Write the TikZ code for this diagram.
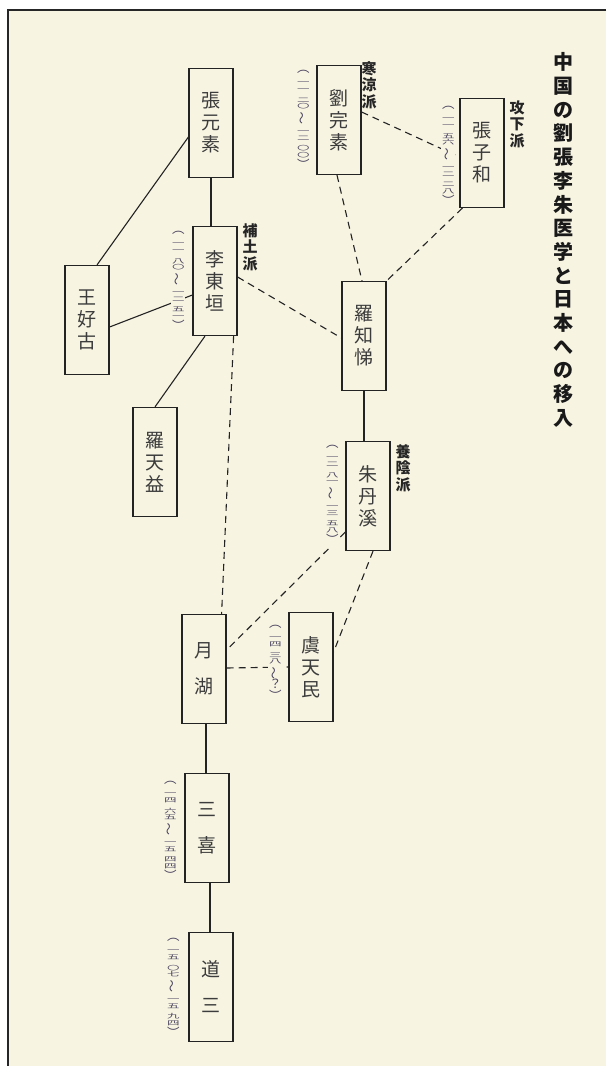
\documentclass[tikz,border=0pt]{standalone}
\usepackage{fontspec}
\setmainfont{Noto Sans CJK JP}
\usepackage{graphicx}
\definecolor{cream}{RGB}{247,244,226}
\definecolor{datecol}{RGB}{75,68,95}
\definecolor{inkline}{RGB}{35,35,35}
\definecolor{inktext}{RGB}{60,60,60}
\newcommand\sd[1]{\scalebox{1}[0.5]{#1}}
\newcommand\dpr[2]{\sd{#1}\\\sd{#2}}
\newcommand\dyr[4]{\dpr{#1}{#2}\\[3.5pt]\dpr{#3}{#4}}
\newcommand\opn{︵}
\newcommand\cls{︶}
\newcommand\wv{\rotatebox[origin=c]{90}{～}}
\tikzset{
  namebox/.style={draw=inkline, line width=1.2pt, minimum width=44pt, minimum height=109pt,
    inner sep=0pt, text=inktext, align=center, font={\fontsize{19}{22}\selectfont}},
  namebox2/.style={namebox, font={\fontsize{19}{36}\selectfont}},
  school/.style={text=black!85, align=center, inner sep=0pt, font={\bfseries\fontsize{15}{16.5}\selectfont}},
  datelbl/.style={text=datecol, fill=cream, inner sep=1pt, text width=12pt, align=center,
    font={\fontsize{12.5}{6.8}\selectfont\lineskiplimit-100pt}},
  solidlink/.style={draw=inkline, line width=1.1pt},
  dashlink/.style={draw=inkline, line width=1.1pt, dash pattern=on 7pt off 5pt},
  titletext/.style={text=black!90, align=center, inner sep=0pt, font={\bfseries\fontsize{20}{23.7}\selectfont}}
}
\begin{document}
\begin{tikzpicture}[x=1pt,y=-1pt]
\useasboundingbox (0,0) rectangle (606,1066);
\fill[white] (0,0) rectangle (606,1066);
\fill[cream] (8,10) rectangle (606,1066);
\draw[line width=2pt, black!85] (606,10) -- (8,10) -- (8,1066);

% name boxes
\node[namebox] (zih) at (482,153) {張\\子\\和};
\node[namebox] (lwa) at (339,120) {劉\\完\\素};
\node[namebox] (zgs) at (211,123) {張\\元\\素};
\node[namebox] (lid) at (215,281) {李\\東\\垣};
\node[namebox] (wkk) at (87,320) {王\\好\\古};
\node[namebox] (rte) at (155,462) {羅\\天\\益};
\node[namebox] (rct) at (364,336) {羅\\知\\悌};
\node[namebox] (ztk) at (368,496) {朱\\丹\\溪};
\node[namebox2] (gk) at (204,669) {月\\湖};
\node[namebox] (gtm) at (311,667) {虞\\天\\民};
\node[namebox2] (sk) at (207,828) {三\\喜};
\node[namebox2] (ds) at (211,987) {道\\三};

% solid connectors
\draw[solidlink] (zgs.south) -- (zgs.south |- lid.north);
\draw[solidlink] ([yshift=-14pt]zgs.west) -- ([xshift=10pt]wkk.north);
\draw[solidlink] ([yshift=-7pt]wkk.east) -- ([yshift=-14pt]lid.west);
\draw[solidlink] ([xshift=-10pt]lid.south) -- (rte.north);
\draw[solidlink] (rct.south) -- (rct.south |- ztk.north);
\draw[solidlink] ([xshift=2pt]gk.south) -- ([xshift=2pt]gk.south |- sk.north);
\draw[solidlink] ([xshift=3pt]sk.south) -- ([xshift=3pt]sk.south |- ds.north);

% dashed connectors
\draw[dashlink] ([yshift=8pt]lwa.east) -- ([yshift=-4pt]zih.west);
\draw[dashlink] ([xshift=-2pt]lwa.south) -- ([xshift=-2pt]rct.north);
\draw[dashlink] ([xshift=3pt]zih.south west) -- (rct.north east);
\draw[dashlink] ([yshift=4pt]lid.east) -- ([yshift=-2pt]rct.west);
\draw[dashlink] ([xshift=-4pt]lid.south east) -- ([xshift=-5pt]gk.north east);
\draw[dashlink] ([yshift=-36pt]ztk.west) -- ([yshift=19pt]gk.east);
\draw[dashlink] ([xshift=5pt]ztk.south) -- ([yshift=15pt]gtm.east);
\draw[dashlink] ([yshift=1pt]gk.east) -- (gtm.west);

% dates
\node[datelbl] (dzih) at (448,156) {\opn\\[5.5pt]\dyr{一}{一}{五}{六}\\[5.5pt]\wv\\[5.5pt]\dyr{一}{二}{二}{八}\\[5.5pt]\cls};
\node[datelbl] (dlwa) at (303,120) {\opn\\[5.5pt]\dyr{一}{一}{二}{〇}\\[5.5pt]\wv\\[5.5pt]\dyr{一}{二}{〇}{〇}\\[5.5pt]\cls};
\node[datelbl] (dlid) at (178,281) {\opn\\[5.5pt]\dyr{一}{一}{八}{〇}\\[5.5pt]\wv\\[5.5pt]\dyr{一}{二}{五}{一}\\[5.5pt]\cls};
\node[datelbl] (dztk) at (332,495) {\opn\\[5.5pt]\dyr{一}{二}{八}{一}\\[5.5pt]\wv\\[5.5pt]\dyr{一}{三}{五}{八}\\[5.5pt]\cls};
\node[datelbl] (dgtm) at (275,663) {\opn\\[5.5pt]\dyr{一}{四}{三}{八}\\[5.5pt]\wv\\[5.5pt]？\\[5.5pt]\cls};
\node[datelbl] (dsk) at (170,831) {\opn\\[5.5pt]\dyr{一}{四}{六}{五}\\[5.5pt]\wv\\[5.5pt]\dyr{一}{五}{四}{四}\\[5.5pt]\cls};
\node[datelbl] (dds) at (173,988) {\opn\\[5.5pt]\dyr{一}{五}{〇}{七}\\[5.5pt]\wv\\[5.5pt]\dyr{一}{五}{九}{四}\\[5.5pt]\cls};

% school labels
\node[school] (s1) at (517,124) {攻\\下\\派};
\node[school] (s2) at (369,85) {寒\\涼\\派};
\node[school] (s3) at (250,247) {補\\土\\派};
\node[school] (s4) at (403,468) {養\\陰\\派};

% title
\node[titletext] (title) at (563,240) {中\\国\\の\\劉\\張\\李\\朱\\医\\学\\と\\日\\本\\へ\\の\\移\\入};
\end{tikzpicture}
\end{document}
